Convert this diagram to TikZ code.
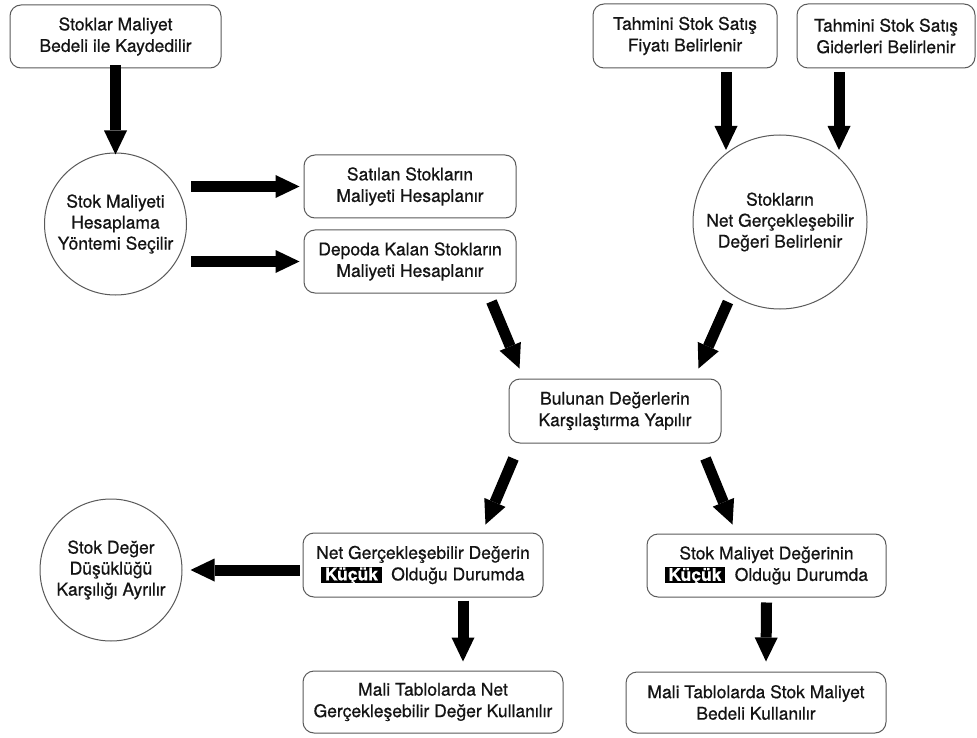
\documentclass[tikz,border=0pt]{standalone}
\usepackage{fontspec}
\setmainfont{TeX Gyre Heros}[FakeBold=0.6]
\usetikzlibrary{arrows.meta,calc}
\definecolor{txt}{HTML}{141414}
\definecolor{edge}{HTML}{5A5A5A}
\newcommand{\kucukbox}{{\setlength{\fboxsep}{0pt}\colorbox{black}{\rule[-2.5pt]{0pt}{16pt}\hspace{3.5pt}\smash{\textcolor{white}{\bfseries Küçük}}\hspace{3.5pt}}}}
\begin{document}
\begin{tikzpicture}[x=1pt,y=-1pt,
  box/.style={draw=edge, line width=1pt, rounded corners=11pt, fill=white, text=txt, align=center, font=\fontsize{17.5}{21.5}\selectfont, inner sep=0pt},
  circ/.style={draw=edge, line width=1pt, circle, fill=white, text=txt, align=center, font=\fontsize{17.5}{21}\selectfont, inner sep=0pt},
  bigarrow/.style={black, line width=11pt, -{Triangle[length=24pt,width=23pt,line width=0pt]}}
]
\fill[white] (0,0) rectangle (977,738);
\useasboundingbox (0,0) rectangle (977,738);

% boxes
\node[box, minimum width=211pt, minimum height=63pt] (b1) at (115.5,36.5) {Stoklar Maliyet\\Bedeli ile Kaydedilir};
\node[box, minimum width=212pt, minimum height=63pt] (b2) at (410,186.5) {Satılan Stokların\\Maliyeti Hesaplanır};
\node[box, minimum width=212pt, minimum height=63pt] (b3) at (410,261.5) {Depoda Kalan Stokların\\Maliyeti Hesaplanır};
\node[box, minimum width=184pt, minimum height=64pt] (b4) at (685,36) {Tahmini Stok Satış\\Fiyatı Belirlenir};
\node[box, minimum width=178pt, minimum height=64pt] (b5) at (886,36) {Tahmini Stok Satış\\Giderleri Belirlenir};
\node[box, minimum width=212pt, minimum height=64pt] (b6) at (615,411) {Bulunan Değerlerin\\Karşılaştırma Yapılır};
\node[box, minimum width=240pt, minimum height=64pt] (b7) at (423,565) {Net Gerçekleşebilir Değerin\\\kucukbox\ \ Olduğu Durumda};
\node[box, minimum width=239pt, minimum height=63pt] (b8) at (766.5,565.5) {Stok Maliyet Değerinin\\\kucukbox\ \ Olduğu Durumda};
\node[box, minimum width=260pt, minimum height=62pt] (b9) at (433,702) {Mali Tablolarda Net\\Gerçekleşebilir Değer Kullanılır};
\node[box, minimum width=260pt, minimum height=61pt] (b10) at (756,702.5) {Mali Tablolarda Stok Maliyet\\Bedeli Kullanılır};

% circles
\node[circ, minimum size=142pt] (c1) at (115.5,224) {Stok Maliyeti\\Hesaplama\\Yöntemi Seçilir};
\node[circ, minimum size=174pt] (c2) at (780,222) {Stokların\\Net Gerçekleşebilir\\Değeri Belirlenir};
\node[circ, minimum size=142pt] (c3) at (111,570) {Stok Değer\\Düşüklüğü\\Karşılığı Ayrılır};

% arrows
\draw[bigarrow] ([yshift=3]b1.south) -- ([yshift=-2]c1.north);
\draw[bigarrow] ($(c1.east |- b2.west)+(4,0)$) -- ([xshift=-4]b2.west);
\draw[bigarrow] ($(c1.east |- b3.west)+(4,0)$) -- ([xshift=-4]b3.west);
\draw[bigarrow] ([shift={(41,4)}]b4.south) -- ([shift={(-54,-72)}]c2.center);
\draw[bigarrow] ([shift={(-47,4)}]b5.south) -- ([shift={(59,-72)}]c2.center);
\draw[bigarrow] ([shift={(-25,8)}]b3.south east) -- ([shift={(11,-10)}]b6.north west);
\draw[bigarrow] ([shift={(-52,80)}]c2.center) -- ([shift={(-23,-10)}]b6.north east);
\draw[bigarrow] ([shift={(5,15)}]b6.south west) -- ([shift={(-58,-8)}]b7.north east);
\draw[bigarrow] ([shift={(-16,15)}]b6.south east) -- ([shift={(86,-9)}]b8.north west);
\draw[bigarrow] ([shift={(-3,5)}]b7.west) -- ([xshift=8]c3.east);
\draw[bigarrow] ([shift={(40,3)}]b7.south) -- ([shift={(30,-9)}]b9.north);
\draw[bigarrow] ([shift={(0,5)}]b8.south) -- ([shift={(10,-10)}]b10.north);
\end{tikzpicture}
\end{document}
